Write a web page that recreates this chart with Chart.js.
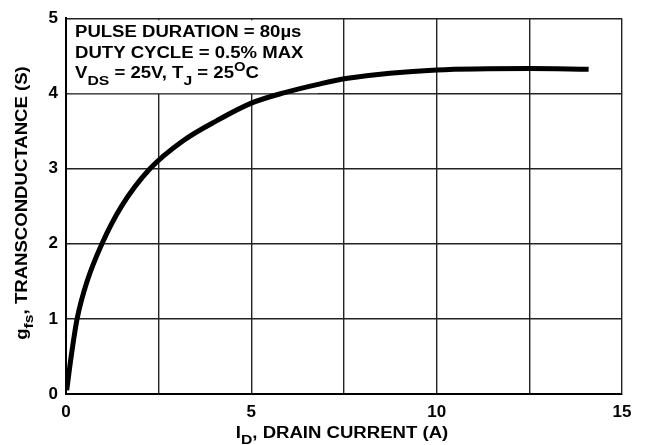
<!DOCTYPE html>
<html>
<head>
<meta charset="utf-8">
<script src="https://cdn.jsdelivr.net/npm/chart.js@4.4.0/dist/chart.umd.min.js"></script>
<style>
  html, body { margin: 0; padding: 0; background: #fff; }
  #wrap { width: 652px; height: 445px; }
</style>
</head>
<body>
<div id="wrap"><canvas id="myChart" width="652" height="445"></canvas></div>
<script>
// drain current (A) and transconductance (S)
const drainCurrent = [0.02, 0.14, 0.3, 0.57, 0.97, 1.5, 2.27, 3.16, 4.08, 5.0, 5.9, 6.8, 7.6, 10, 12.5, 14.1];
const transconductance = [0.05, 0.5, 1.0, 1.5, 2.0, 2.5, 3.0, 3.37, 3.64, 3.87, 4.01, 4.12, 4.2, 4.31, 4.33, 4.32];
const xTickLabels = [0, 5, 10, 15];
const yTickLabels = [0, 1, 2, 3, 4, 5];

const FONT = '"Liberation Sans", Arial, sans-serif';
const STRETCH = 1.16; // the original lettering is wider than Arial

// draws a row of text pieces (some sub/superscript), stretched sideways
function drawPieces(ctx, x, y, pieces, size) {
    ctx.save();
    ctx.translate(x, y);
    ctx.scale(STRETCH, 1);
    var cx = 0;
    pieces.forEach(function (p) {
        var fs = p.sub ? size * 0.85 : (p.sup ? size * 0.8 : size);
        var dy = p.sub ? size * 0.4 : (p.sup ? -size * 0.45 : 0);
        ctx.font = 'bold ' + fs + 'px ' + FONT;
        ctx.fillText(p.t, cx, dy);
        cx += ctx.measureText(p.t).width;
    });
    ctx.restore();
}

function piecesWidth(ctx, pieces, size) {
    var w = 0;
    pieces.forEach(function (p) {
        var fs = p.sub ? size * 0.85 : (p.sup ? size * 0.8 : size);
        ctx.font = 'bold ' + fs + 'px ' + FONT;
        w += ctx.measureText(p.t).width;
    });
    return w * STRETCH;
}

const notes = {
    id: 'notes',
    beforeDatasetsDraw: function (chart) {
        var ctx = chart.ctx;
        var a = chart.chartArea;
        ctx.save();
        ctx.fillStyle = '#fff';
        ctx.fillRect(a.left + 2, a.top + 2, 250, 73);
        ctx.fillStyle = '#000';
        ctx.textAlign = 'left';
        ctx.textBaseline = 'alphabetic';
        drawPieces(ctx, a.left + 9, a.top + 19, [{ t: 'PULSE DURATION = 80µs' }], 16);
        drawPieces(ctx, a.left + 9, a.top + 40, [{ t: 'DUTY CYCLE = 0.5% MAX' }], 16);
        drawPieces(ctx, a.left + 9, a.top + 60, [
            { t: 'V' }, { t: 'DS', sub: true }, { t: ' = 25V, T' }, { t: 'J', sub: true },
            { t: ' = 25' }, { t: 'O', sup: true }, { t: 'C' }
        ], 16);
        ctx.restore();
    },
    afterDraw: function (chart) {
        var ctx = chart.ctx;
        var a = chart.chartArea;
        ctx.save();
        ctx.fillStyle = '#000';
        ctx.textBaseline = 'alphabetic';
        ctx.textAlign = 'left';
        // x title
        var xt = [{ t: 'I' }, { t: 'D', sub: true }, { t: ', DRAIN CURRENT (A)' }];
        var w = piecesWidth(ctx, xt, 16);
        drawPieces(ctx, 342 - w / 2, 438, xt, 16);
        // y title
        var yt = [{ t: 'g' }, { t: 'fs', sub: true }, { t: ', TRANSCONDUCTANCE (S)' }];
        w = piecesWidth(ctx, yt, 16);
        ctx.translate(27, 203);
        ctx.rotate(-Math.PI / 2);
        drawPieces(ctx, -w / 2, 0, yt, 16);
        ctx.restore();
    }
};

const points = drainCurrent.map(function (x, i) {
    return { x: x, y: transconductance[i] };
});

const config = {
    type: 'scatter',
    data: {
        datasets: [
            {
                data: points,
                showLine: true,
                borderColor: '#000',
                borderWidth: 5,
                pointRadius: 0,
                cubicInterpolationMode: 'monotone',
                borderCapStyle: 'butt'
            }
        ]
    },
    plugins: [notes],
    options: {
        responsive: false,
        animation: false,
        layout: { padding: { top: 13, right: 30, left: 0, bottom: 0 } },
        plugins: {
            legend: { display: false },
            tooltip: { enabled: false }
        },
        scales: {
            x: {
                type: 'linear',
                min: 0,
                max: 15,
                afterFit: function (s) { s.height = 51; },
                grid: { color: '#222', lineWidth: 1.4, drawTicks: false },
                border: { color: '#000', width: 2 },
                ticks: {
                    stepSize: 2.5,
                    autoSkip: false,
                    maxRotation: 0,
                    padding: 8,
                    color: '#000',
                    font: { family: FONT, size: 17, weight: 'bold' },
                    callback: function (v) {
                        return xTickLabels.indexOf(v) >= 0 ? String(v) : '';
                    }
                }
            },
            y: {
                min: 0,
                max: 5,
                afterFit: function (s) { s.width = 66; },
                grid: { color: '#222', lineWidth: 1.4, drawTicks: false },
                border: { color: '#000', width: 2 },
                ticks: {
                    stepSize: 1,
                    padding: 8,
                    color: '#000',
                    font: { family: FONT, size: 17, weight: 'bold' },
                    callback: function (v) {
                        return yTickLabels.indexOf(v) >= 0 ? String(v) : '';
                    }
                }
            }
        }
    }
};

const ctx = document.getElementById('myChart').getContext('2d');
new Chart(ctx, config);
</script>
</body>
</html>
